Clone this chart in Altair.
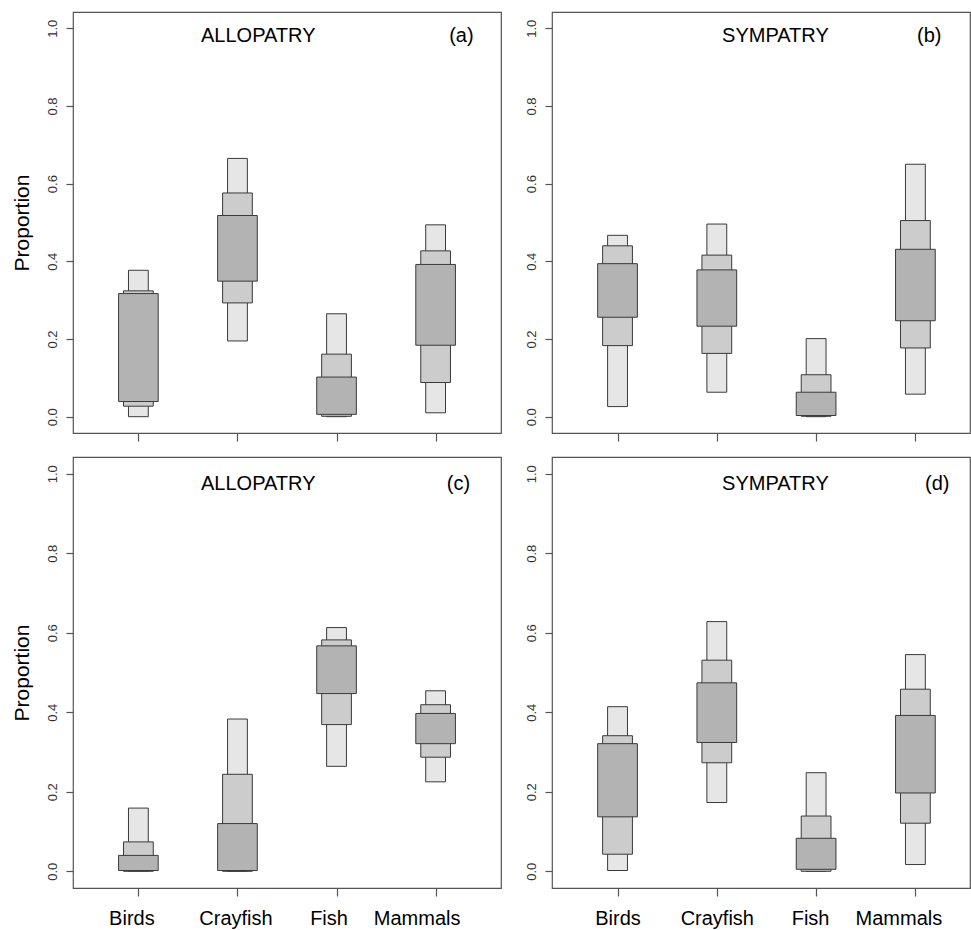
import json
import altair as alt
import pandas as pd

FONT = "Liberation Sans"

CATS = ["Birds", "Crayfish", "Fish", "Mammals"]
LEVELS = ["light", "mid", "dark"]

# (a) ALLOPATRY
a_light_lo = [0.000, 0.195, 0.000, 0.010]
a_light_hi = [0.377, 0.665, 0.265, 0.494]
a_mid_lo = [0.027, 0.293, 0.001, 0.088]
a_mid_hi = [0.324, 0.576, 0.161, 0.427]
a_dark_lo = [0.039, 0.349, 0.006, 0.184]
a_dark_hi = [0.317, 0.518, 0.102, 0.392]

# (b) SYMPATRY
b_light_lo = [0.026, 0.063, 0.000, 0.058]
b_light_hi = [0.467, 0.496, 0.201, 0.650]
b_mid_lo = [0.183, 0.163, 0.001, 0.177]
b_mid_hi = [0.440, 0.416, 0.108, 0.505]
b_dark_lo = [0.256, 0.233, 0.003, 0.247]
b_dark_hi = [0.394, 0.378, 0.063, 0.431]

# (c) ALLOPATRY
c_light_lo = [0.000, 0.000, 0.264, 0.225]
c_light_hi = [0.159, 0.383, 0.613, 0.454]
c_mid_lo = [0.000, 0.000, 0.369, 0.287]
c_mid_hi = [0.074, 0.244, 0.582, 0.419]
c_dark_lo = [0.002, 0.002, 0.447, 0.321]
c_dark_hi = [0.040, 0.120, 0.567, 0.397]

# (d) SYMPATRY
d_light_lo = [0.002, 0.173, 0.000, 0.017]
d_light_hi = [0.414, 0.628, 0.248, 0.545]
d_mid_lo = [0.043, 0.273, 0.000, 0.121]
d_mid_hi = [0.341, 0.531, 0.139, 0.458]
d_dark_lo = [0.137, 0.324, 0.005, 0.197]
d_dark_hi = [0.321, 0.474, 0.083, 0.392]

Y_TICKS = [0.0, 0.2, 0.4, 0.6, 0.8, 1.0]

# horizontal label nudges in pixels (negative = left), as placed in the reference
C_NUDGE = [-7, -2, -8, -19]
D_NUDGE = [0, 0, -6, -17]


def make_df(lows, highs):
    rows = []
    for lev, lo, hi in zip(LEVELS, lows, highs):
        for i, c in enumerate(CATS):
            rows.append({"cat": c, "pos": i + 1, "level": lev, "lo": lo[i], "hi": hi[i]})
    return pd.DataFrame(rows)


def panel(df, title, tag, title_x, tag_x, text_y, xmax, width, height, nudge, left):
    x_scale = alt.Scale(domain=[0.34, xmax], nice=False, zero=False)
    y_scale = alt.Scale(domain=[-0.042, 1.042], nice=False, zero=False)
    show = nudge is not None
    axis_kw = dict(
        values=[1, 2, 3, 4],
        labelExpr=json.dumps(CATS) + "[datum.value - 1]",
        labels=show,
        title=None,
        domain=False,
        grid=False,
        ticks=True,
        tickSize=8,
        tickColor="#555",
        tickWidth=1.2,
        labelFontSize=20,
        labelFont=FONT,
        labelColor="black",
        labelPadding=12,
    )
    if show:
        axis_kw["labelOffset"] = {
            "condition": [
                {"test": f"datum.value == {i + 1}", "value": v} for i, v in enumerate(nudge) if v != 0
            ],
            "value": 0,
        }
    x_axis = alt.Axis(**axis_kw)
    y_axis = alt.Axis(
        values=Y_TICKS,
        format=".1f",
        labelAngle=270,
        labelAlign="center",
        labelBaseline="bottom",
        labelFontSize=13,
        labelFont=FONT,
        labelColor="#333",
        labelPadding=7,
        tickSize=7,
        tickColor="#555",
        tickWidth=1.2,
        domain=False,
        grid=False,
        title="Proportion" if left else None,
        titleFontSize=21,
        titleFont=FONT,
        titleFontWeight="normal",
        titleColor="black",
        titlePadding=14,
    )
    half = "datum.level == 'light' ? 0.1 : (datum.level == 'mid' ? 0.15 : 0.2)"
    rects = (
        alt.Chart(df)
        .transform_calculate(x1=f"datum.pos - ({half})", x2=f"datum.pos + ({half})")
        .mark_rect(stroke="#3a3a3a", strokeWidth=1)
        .encode(
            x=alt.X("x1:Q", scale=x_scale, axis=x_axis),
            x2="x2:Q",
            y=alt.Y("lo:Q", scale=y_scale, axis=y_axis),
            y2="hi:Q",
            fill=alt.Fill(
                "level:N",
                scale=alt.Scale(domain=LEVELS, range=["#e6e6e6", "#cccccc", "#b3b3b3"]),
                legend=None,
            ),
        )
    )
    labels_df = pd.DataFrame({"x": [title_x, tag_x], "y": [text_y, text_y], "label": [title, tag]})
    texts = (
        alt.Chart(labels_df)
        .mark_text(fontSize=20, font=FONT, color="black", baseline="middle", align="center")
        .encode(
            x=alt.X("x:Q", scale=x_scale, axis=x_axis),
            y=alt.Y("y:Q", scale=y_scale, axis=y_axis),
            text="label:N",
        )
    )
    return alt.layer(rects, texts).properties(width=width, height=height)


pa = panel(make_df([a_light_lo, a_mid_lo, a_dark_lo], [a_light_hi, a_mid_hi, a_dark_hi]),
           "ALLOPATRY", "(a)", 2.21, 4.26, 0.98, 4.66, 428, 421, None, True)
pb = panel(make_df([b_light_lo, b_mid_lo, b_dark_lo], [b_light_hi, b_mid_hi, b_dark_hi]),
           "SYMPATRY", "(b)", 2.59, 4.14, 0.98, 4.55, 418, 421, None, False)
pc = panel(make_df([c_light_lo, c_mid_lo, c_dark_lo], [c_light_hi, c_mid_hi, c_dark_hi]),
           "ALLOPATRY", "(c)", 2.21, 4.23, 0.975, 4.66, 428, 431, C_NUDGE, True)
pd_ = panel(make_df([d_light_lo, d_mid_lo, d_dark_lo], [d_light_hi, d_mid_hi, d_dark_hi]),
            "SYMPATRY", "(d)", 2.59, 4.22, 0.975, 4.55, 418, 431, D_NUDGE, False)

chart = (
    alt.concat(pa, pb, pc, pd_, columns=2, spacing={"row": 24, "column": 51},
               bounds="flush", align="each")
    .properties(padding={"left": 10, "top": 11, "right": 0, "bottom": 0}, background="white")
    .configure_view(stroke="#555", strokeWidth=1.2)
)

chart.save("out.html", embed_options={"renderer": "svg", "actions": False})
